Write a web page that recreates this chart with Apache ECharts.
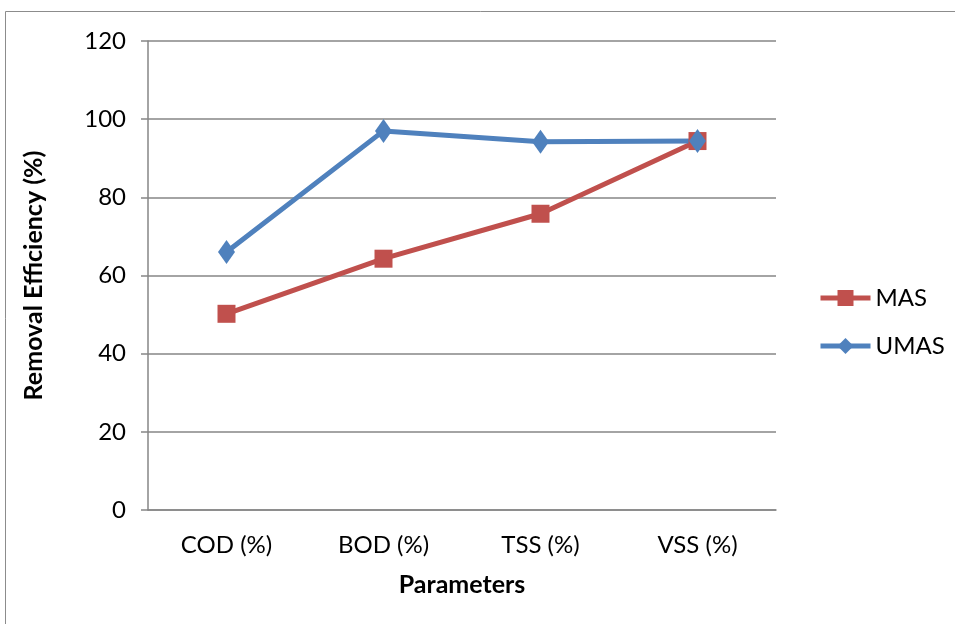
<!DOCTYPE html>
<html>
<head>
<meta charset="utf-8">
<script src="https://cdn.jsdelivr.net/npm/echarts@6/dist/echarts.min.js"></script>
<style>html,body{margin:0;padding:0;background:#fff}#c{width:955px;height:624px}</style>
</head>
<body>
<div id="c"></div>
<script>
const categories = ['COD (%)', 'BOD (%)', 'TSS (%)', 'VSS (%)'];
const masValues = [50.2, 64.3, 75.8, 94.4];
const umasValues = [66.0, 97.0, 94.2, 94.4];
const yTicks = [0, 20, 40, 60, 80, 100, 120];

const FONT = 'Lato, "Open Sans", sans-serif';
const chart = echarts.init(document.getElementById('c'));
chart.setOption({
  animation: false,
  backgroundColor: '#fff',
  textStyle: { fontFamily: FONT },
  graphic: [{
    type: 'rect', shape: { x: 5.5, y: 11.5, width: 1000, height: 700 },
    style: { fill: 'none', stroke: '#8c8c8c', lineWidth: 1 }, silent: true
  }],
  grid: { left: 148, right: 179, top: 41, bottom: 114, containLabel: false },
  legend: {
    orient: 'vertical', left: 818, top: 286, itemGap: 24, padding: 0,
    itemWidth: 50, itemHeight: 20,
    lineStyle: { width: 5 },
    textStyle: { fontSize: 24, color: '#000', fontFamily: FONT },
    data: ['MAS', 'UMAS']
  },
  xAxis: {
    type: 'category', data: categories, boundaryGap: true,
    name: 'Parameters', nameLocation: 'middle', nameGap: 62,
    nameTextStyle: { fontSize: 25, fontWeight: 'bold', color: '#000', fontFamily: FONT },
    axisLine: { lineStyle: { color: '#868686', width: 1.5 } },
    axisTick: { show: false },
    axisLabel: { fontSize: 24, color: '#000', margin: 23, fontFamily: FONT }
  },
  yAxis: {
    type: 'value', min: yTicks[0], max: yTicks[yTicks.length - 1], interval: 20,
    name: 'Removal Efficiency (%)', nameLocation: 'middle', nameGap: 102, nameRotate: 90,
    nameTextStyle: { fontSize: 25, fontWeight: 'bold', color: '#000', fontFamily: FONT },
    axisLine: { show: true, lineStyle: { color: '#868686', width: 1.5 } },
    axisTick: { show: true, length: 7, lineStyle: { color: '#868686', width: 1.5 } },
    axisLabel: { fontSize: 24, color: '#000', margin: 22, fontFamily: FONT },
    splitLine: { show: true, lineStyle: { color: '#868686', width: 1.5 } }
  },
  series: [
    {
      name: 'MAS', type: 'line', data: masValues,
      symbol: 'rect', symbolSize: 18,
      lineStyle: { color: '#C0504D', width: 5 },
      itemStyle: { color: '#C0504D' }
    },
    {
      name: 'UMAS', type: 'line', data: umasValues,
      symbol: 'diamond', symbolSize: [17, 24],
      lineStyle: { color: '#4F81BD', width: 5 },
      itemStyle: { color: '#4F81BD' }
    }
  ]
});
</script>
</body>
</html>
